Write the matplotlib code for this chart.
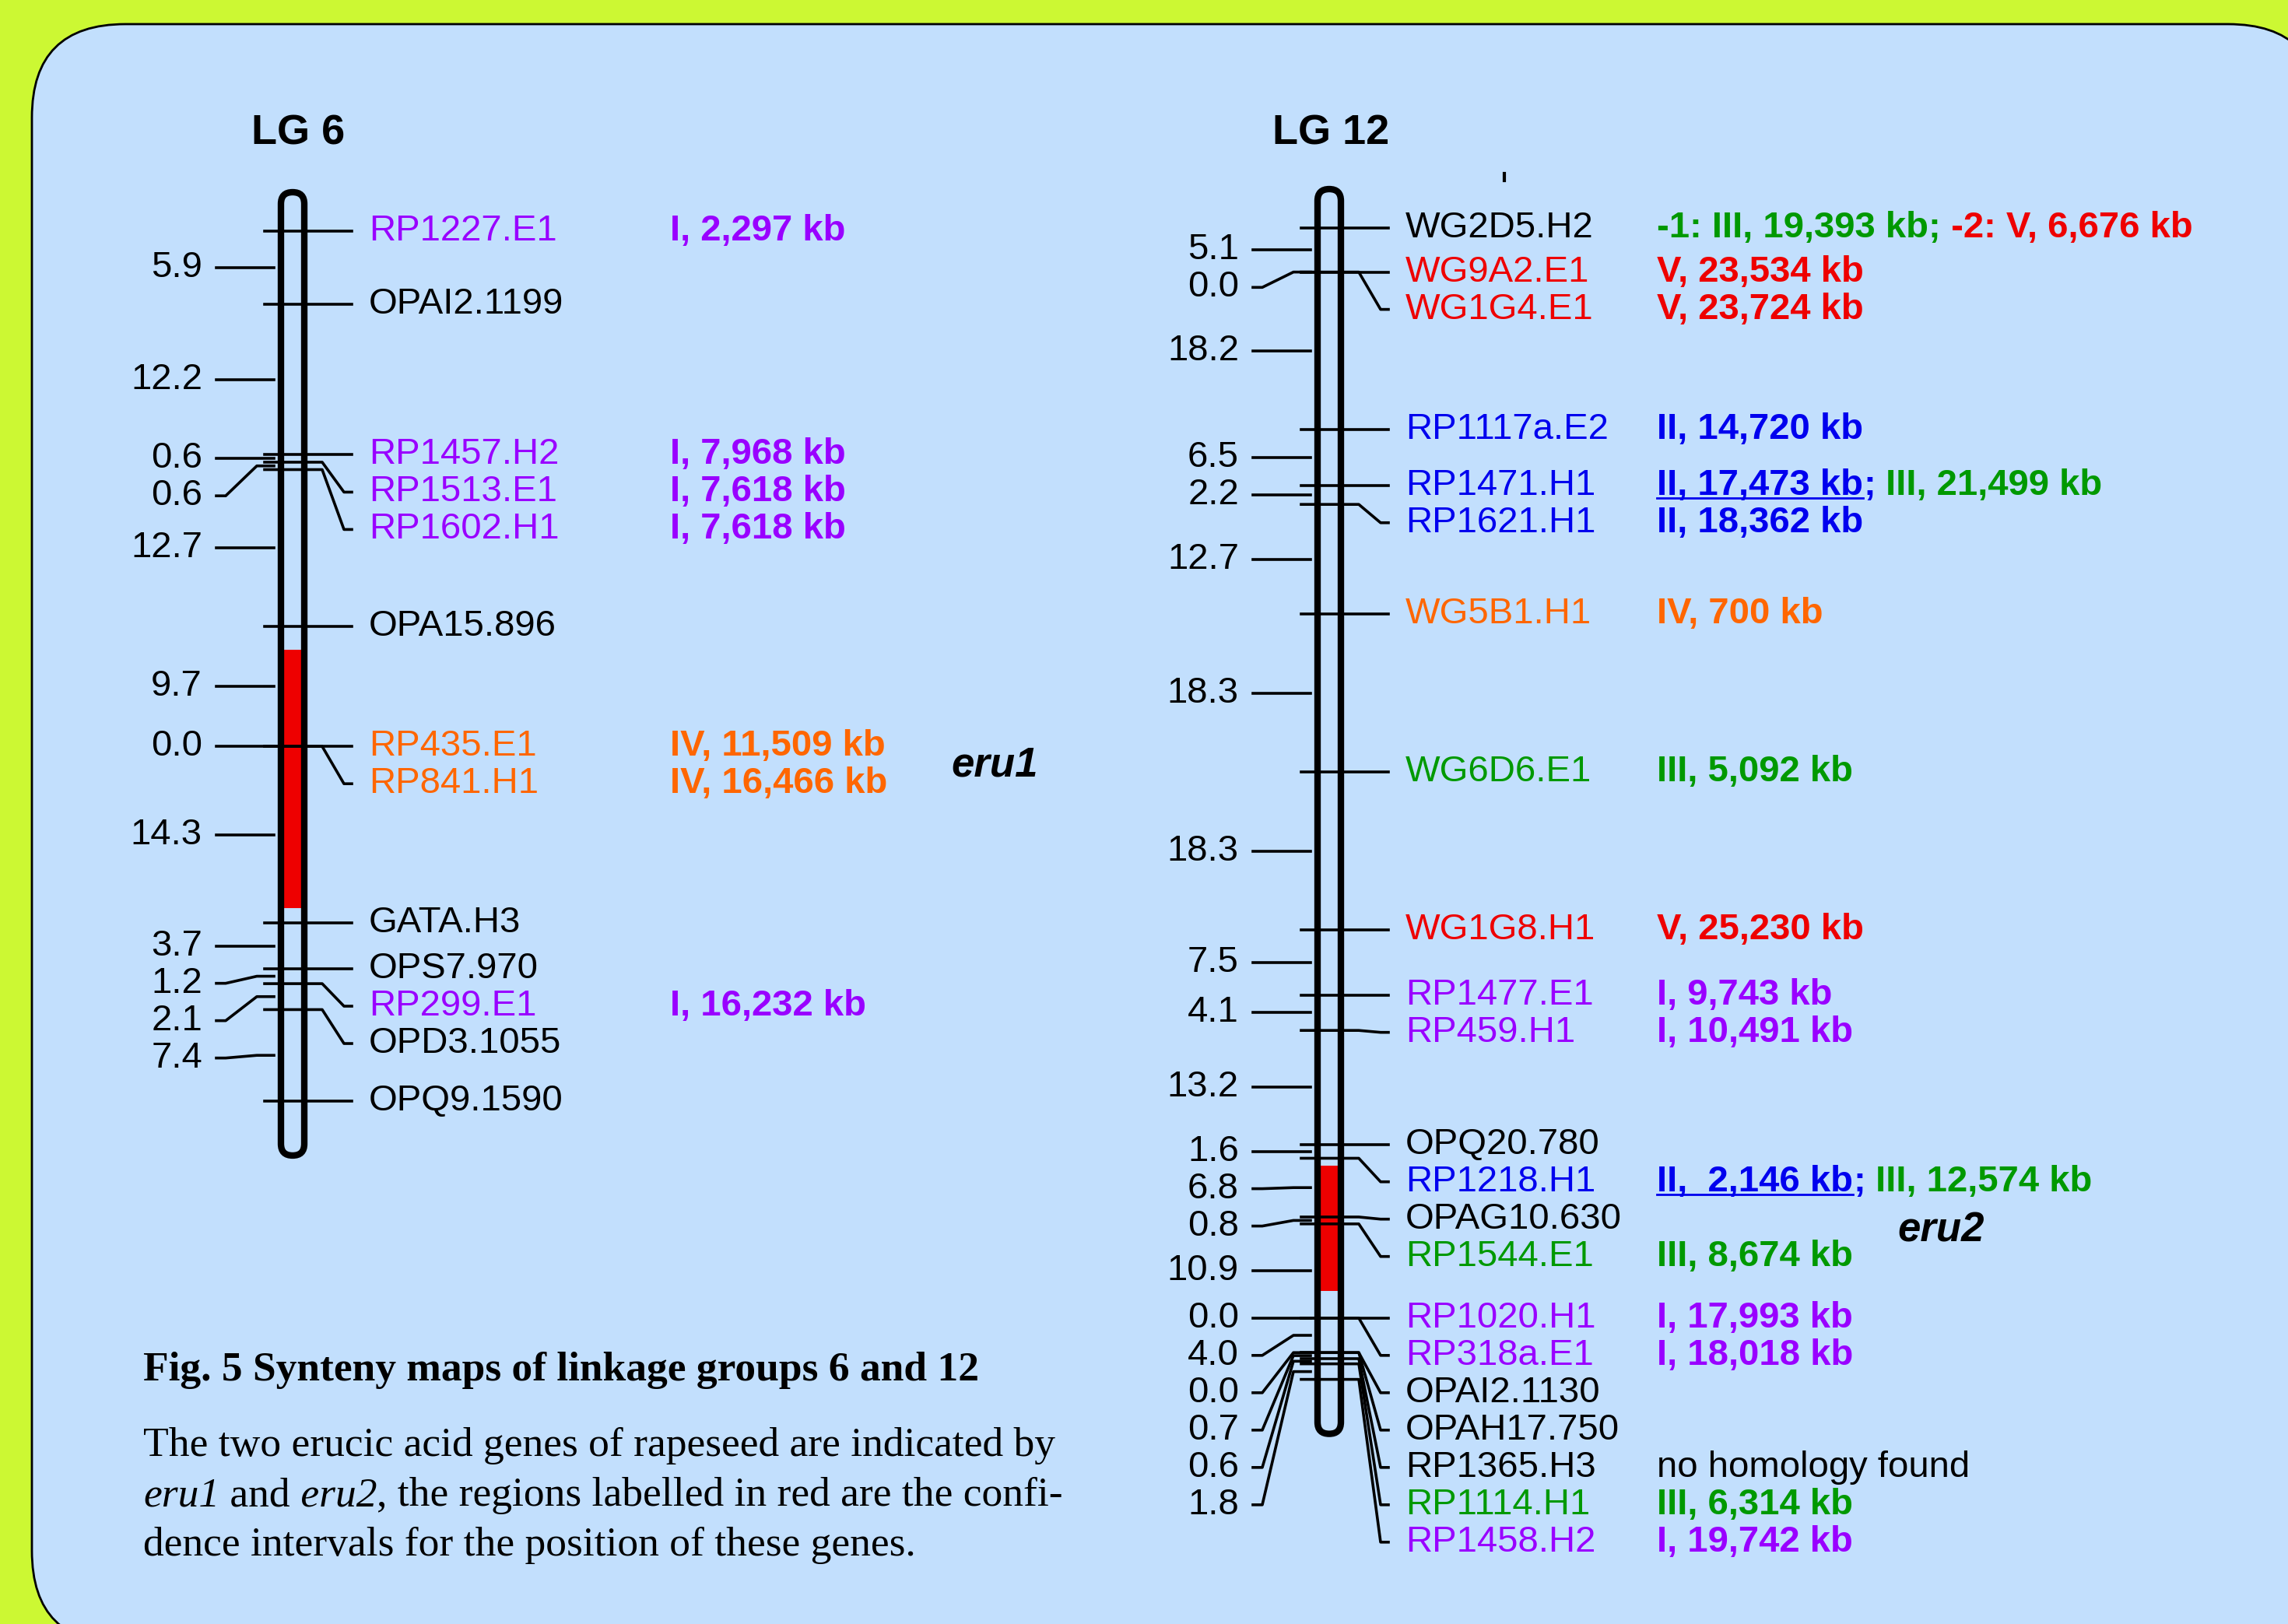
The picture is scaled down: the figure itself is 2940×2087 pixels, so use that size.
import matplotlib
matplotlib.use("Agg")
import matplotlib.pyplot as plt
from matplotlib.patches import FancyBboxPatch, Rectangle

# ---------------------------------------------------------------
# Data: linkage groups (marker names, cM intervals, homology)
# ---------------------------------------------------------------
lg6_markers = ["RP1227.E1", "OPAI2.1199", "RP1457.H2", "RP1513.E1", "RP1602.H1",
               "OPA15.896", "RP435.E1", "RP841.H1", "GATA.H3", "OPS7.970",
               "RP299.E1", "OPD3.1055", "OPQ9.1590"]
lg6_dist = [5.9, 12.2, 0.6, 0.6, 12.7, 9.7, 0.0, 14.3, 3.7, 1.2, 2.1, 7.4]
lg6_colors = ["purple", "black", "purple", "purple", "purple", "black", "orange",
              "orange", "black", "black", "purple", "black", "black"]
lg6_homology = [
    [("I, 2,297 kb", "purple")], [],
    [("I, 7,968 kb", "purple")], [("I, 7,618 kb", "purple")], [("I, 7,618 kb", "purple")],
    [],
    [("IV, 11,509 kb", "orange")], [("IV, 16,466 kb", "orange")],
    [], [],
    [("I, 16,232 kb", "purple")], [], [],
]
lg6_ci = (33.9, 54.8)   # eru1 confidence interval, cM

lg12_markers = ["WG2D5.H2", "WG9A2.E1", "WG1G4.E1", "RP1117a.E2", "RP1471.H1",
                "RP1621.H1", "WG5B1.H1", "WG6D6.E1", "WG1G8.H1", "RP1477.E1",
                "RP459.H1", "OPQ20.780", "RP1218.H1", "OPAG10.630", "RP1544.E1",
                "RP1020.H1", "RP318a.E1", "OPAI2.1130", "OPAH17.750", "RP1365.H3",
                "RP1114.H1", "RP1458.H2"]
lg12_dist = [5.1, 0.0, 18.2, 6.5, 2.2, 12.7, 18.3, 18.3, 7.5, 4.1, 13.2,
             1.6, 6.8, 0.8, 10.9, 0.0, 4.0, 0.0, 0.7, 0.6, 1.8]
lg12_colors = ["black", "red", "red", "blue", "blue", "blue", "orange", "green",
               "red", "purple", "purple", "black", "blue", "black", "green",
               "purple", "purple", "black", "black", "black", "green", "purple"]
lg12_homology = [
    [("-1: III, 19,393 kb;", "green"), (" -2: V, 6,676 kb", "red")],
    [("V, 23,534 kb", "red")],
    [("V, 23,724 kb", "red")],
    [("II, 14,720 kb", "blue")],
    [("II, 17,473 kb", "blue", "u"), (";", "blue"), (" III, 21,499 kb", "green")],
    [("II, 18,362 kb", "blue")],
    [("IV, 700 kb", "orange")],
    [("III, 5,092 kb", "green")],
    [("V, 25,230 kb", "red")],
    [("I, 9,743 kb", "purple")],
    [("I, 10,491 kb", "purple")],
    [],
    [("II,  2,146 kb", "blue", "u"), (";", "blue"), (" III, 12,574 kb", "green")],
    [],
    [("III, 8,674 kb", "green")],
    [("I, 17,993 kb", "purple")],
    [("I, 18,018 kb", "purple")],
    [], [],
    [("no homology found", "black", "plain")],
    [("III, 6,314 kb", "green")],
    [("I, 19,742 kb", "purple")],
]
lg12_ci = (108.6, 123.1)   # eru2 confidence interval, cM

PAL = {"purple": "#9900FF", "orange": "#FF6600", "red": "#EE0000",
       "blue": "#0000EE", "green": "#009900", "black": "black"}

# ---------------------------------------------------------------
# Figure
# ---------------------------------------------------------------
W, H = 2940, 2087
SANS = ["Liberation Sans", "DejaVu Sans"]
SERIF = ["Liberation Serif", "DejaVu Serif"]
FS = 34
GAP = 48  # min label spacing, px

fig = plt.figure(figsize=(W / 100, H / 100), dpi=100)
fig.patch.set_facecolor("#CCF833")
ax0 = fig.add_axes([0, 0, 1, 1])
ax0.set_xlim(0, W)
ax0.set_ylim(H, 0)
ax0.axis("off")
r = fig.canvas.get_renderer()

ax0.add_patch(FancyBboxPatch((41, 31), 2942, 2082,
                             boxstyle="round,pad=0,rounding_size=120",
                             fc="#C2DFFD", ec="black", lw=2))
ax0.plot([1933, 1933], [223, 232], color="black", lw=3)


def draw_runs(ax, x, y, pieces, size=FS, va="center", family=SANS):
    for p in pieces:
        txt, col = p[0], p[1]
        style = p[2] if len(p) > 2 else "b"
        t = ax.text(x, y, txt, color=PAL.get(col, col), fontsize=size, va=va,
                    ha="left", family=family,
                    fontweight="bold" if style in ("b", "u", "bi") else "normal",
                    fontstyle="italic" if style in ("i", "bi") else "normal")
        bb = t.get_window_extent(renderer=r)
        if style == "u":
            yu = ax.transData.inverted().transform((bb.x0, bb.y0 + 6))[1]
            ax.plot([bb.x0, bb.x1], [yu, yu], color=PAL[col], lw=2)
        x = bb.x1


def spread(vals, gap):
    out = []
    for v in vals:
        out.append(v if not out else max(v, out[-1] + gap))
    return out


def draw_lg(top, scale, cx, markers, dist, colors, homology, hom_dx, ci):
    ax = fig.add_axes([0, 0, 1, 1])
    ax.set_xlim(0, W)
    ax.set_ylim((H - top) / scale, -top / scale)
    ax.axis("off")

    pos = [0.0]
    for d in dist:
        pos.append(pos[-1] + d)
    gap = GAP / scale
    lab = spread(pos, gap)
    mids = [(a + b) / 2 for a, b in zip(pos[:-1], pos[1:])]
    dlab = spread(mids, gap)

    # confidence interval
    ax.add_patch(Rectangle((cx - 13, ci[0]), 26, ci[1] - ci[0], fc="#EE0000",
                           ec="none", zorder=1))

    # markers on the right
    for m, p, l, c, h in zip(markers, pos, lab, colors, homology):
        if abs(l - p) < 1e-9:
            xs, ys = [cx - 36, cx + 76], [p, p]
        else:
            xs, ys = [cx - 36, cx + 38, cx + 66, cx + 76], [p, p, l, l]
        ax.plot(xs, ys, color="black", lw=2.6, zorder=2)
        ax.text(cx + 98, l, m, color=PAL[c], fontsize=FS, va="center",
                ha="left", family=SANS)
        draw_runs(ax, cx + hom_dx, l, h)

    # distances on the left
    for d, p, l in zip(dist, mids, dlab):
        if abs(l - p) < 1e-9:
            xs, ys = [cx - 98, cx - 24], [p, p]
        else:
            xs, ys = [cx - 98, cx - 86, cx - 46, cx - 24], [l, l, p, p]
        ax.plot(xs, ys, color="black", lw=2.6, zorder=2)
        ax.text(cx - 116, l, f"{d:.1f}", fontsize=FS, va="center", ha="right",
                family=SANS)

    # chromosome outline
    t0 = pos[0] - 50 / scale
    t1 = pos[-1] + 70 / scale
    ax.add_patch(FancyBboxPatch((cx - 15, t0), 30, t1 - t0,
                                boxstyle="round,pad=0,rounding_size=15",
                                mutation_aspect=1 / scale, fc="none",
                                ec="black", lw=6, zorder=3))


draw_lg(297, 15.88, 376, lg6_markers, lg6_dist, lg6_colors, lg6_homology, 485, lg6_ci)
draw_lg(293, 11.10, 1708, lg12_markers, lg12_dist, lg12_colors, lg12_homology, 421, lg12_ci)

# titles and gene labels
ax0.text(383, 172, "LG 6", fontsize=39, fontweight="bold", ha="center",
         va="center", family=SANS)
ax0.text(1710, 172, "LG 12", fontsize=39, fontweight="bold", ha="center",
         va="center", family=SANS)
ax0.text(1222, 984, "eru1", fontsize=38, fontweight="bold", fontstyle="italic",
         ha="left", va="center", family=SANS)
ax0.text(2438, 1581, "eru2", fontsize=38, fontweight="bold", fontstyle="italic",
         ha="left", va="center", family=SANS)

# caption
CAP = 38.5
ax0.text(184, 1774, "Fig. 5 Synteny maps of linkage groups 6 and 12", fontsize=CAP,
         fontweight="bold", ha="left", va="baseline", family=SERIF)
draw_runs(ax0, 184, 1871,
          [("The two erucic acid genes of rapeseed are indicated by", "black", "r")],
          size=CAP, va="baseline", family=SERIF)
draw_runs(ax0, 184, 1935,
          [("eru1", "black", "i"), (" and", "black", "r"), (" eru2", "black", "i"),
           (", the regions labelled in red are the confi-", "black", "r")],
          size=CAP, va="baseline", family=SERIF)
draw_runs(ax0, 184, 1999,
          [("dence intervals for the position of these genes.", "black", "r")],
          size=CAP, va="baseline", family=SERIF)

fig.savefig("out.png", dpi=100, facecolor=fig.get_facecolor())
